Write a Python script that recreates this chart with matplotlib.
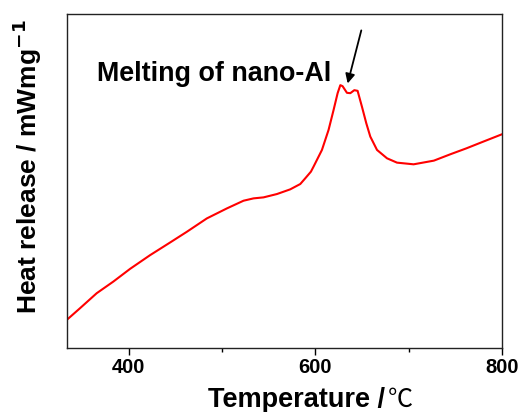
import matplotlib
matplotlib.use("Agg")
import matplotlib.pyplot as plt
from matplotlib.ticker import MultipleLocator

# Werte (Temperatur in °C, Waermefreisetzung in willk. Einheiten)
temperature = [333.7, 347.9, 365.8, 383.7, 401.6, 423.0, 444.5, 462.4, 483.8,
               505.3, 523.1, 533.8, 544.5, 558.9, 573.1, 583.9, 589.2, 595.3,
               598.1, 607.1, 614.2, 619.6, 623.9, 626.8, 629.2, 633.9, 637.5,
               641.8, 645.3, 650.0, 654.6, 658.9, 666.1, 676.8, 687.5, 705.3,
               727.0, 744.6, 762.0, 780.0, 800.0]
heat_release = [0.84, 1.19, 1.64, 1.99, 2.37, 2.78, 3.16, 3.48, 3.88,
                4.18, 4.41, 4.48, 4.51, 4.61, 4.75, 4.91, 5.08, 5.28,
                5.43, 5.93, 6.53, 7.13, 7.63, 7.87, 7.84, 7.64, 7.63,
                7.72, 7.70, 7.22, 6.73, 6.33, 5.93, 5.68, 5.55, 5.50,
                5.61, 5.80, 5.98, 6.18, 6.40]

x_ticks = [400, 600, 800]
annotation_text = "Melting of nano-Al"
annotation_pos = (365.8, 8.0)
arrow_tail = (650.0, 9.59)
arrow_head = (633.9, 7.84)

fonts = ["Liberation Sans", "Noto Sans CJK SC", "DejaVu Sans"]

fig = plt.figure(figsize=(5.27, 4.12), dpi=100)
ax = fig.add_axes([0.1271, 0.1553, 0.8255, 0.8107])

ax.plot(temperature, heat_release, color="#ff0000", linewidth=1.5)

ax.set_xlim(334, 800)
ax.set_ylim(0, 10)
ax.set_xticks(x_ticks)
ax.set_xticklabels([str(t) for t in x_ticks], fontsize=14.5, fontweight="bold",
                   family=fonts)
ax.xaxis.set_minor_locator(MultipleLocator(100))
ax.tick_params(axis="x", which="major", direction="out", length=5, width=1,
               top=False, pad=2.5)
ax.tick_params(axis="x", which="minor", direction="out", length=3, width=1,
               top=False)
ax.set_yticks([])

for sp in ax.spines.values():
    sp.set_linewidth(1.0)
    sp.set_color("#222222")

# x-Beschriftung: Text fett, Gradzeichen duenn wie im Original
ax.text(0.324, -0.177, "Temperature /", transform=ax.transAxes,
        fontsize=19.5, fontweight="bold", family=fonts,
        ha="left", va="baseline")
ax.text(0.737, -0.177, "℃", transform=ax.transAxes,
        fontsize=18, fontweight="normal",
        family=["Noto Sans CJK SC", "DejaVu Sans"],
        ha="left", va="baseline")

ax.set_ylabel("Heat release / mWmg$^{\\mathbf{-1}}$", fontsize=19,
              fontweight="bold", family=fonts)
ax.yaxis.set_label_coords(-0.052, 0.543)

ax.annotate("", xy=arrow_head, xytext=arrow_tail,
            arrowprops=dict(arrowstyle="-|>", color="black", lw=1.3,
                            mutation_scale=14))
ax.text(annotation_pos[0], annotation_pos[1], annotation_text, fontsize=19.4,
        fontweight="bold", family=fonts, ha="left", va="baseline")

plt.savefig("out.png", dpi=100)
